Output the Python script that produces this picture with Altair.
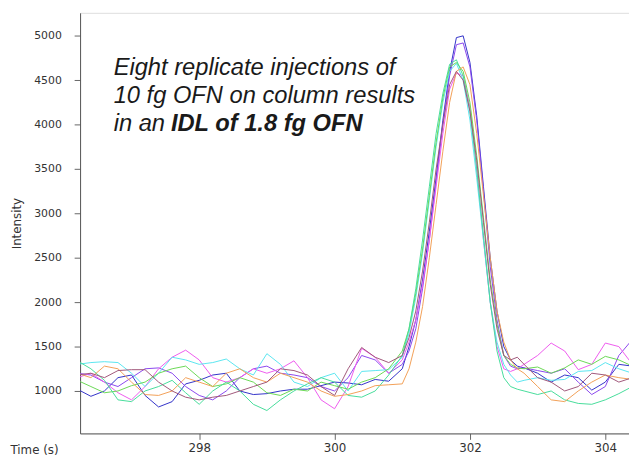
import altair as alt
import pandas as pd

# time axis (s)
times = [296.2, 296.4, 296.6, 296.8, 297.0, 297.2, 297.4, 297.6, 297.8, 298.0,
         298.2, 298.4, 298.6, 298.8, 299.0, 299.2, 299.4, 299.6, 299.8, 300.0,
         300.2, 300.4, 300.6, 300.8,
         301.0, 301.1, 301.2, 301.3, 301.4, 301.5, 301.6, 301.7, 301.8, 301.9,
         302.0, 302.1, 302.2, 302.3, 302.4, 302.5, 302.6, 302.7, 302.8,
         303.0, 303.2, 303.4, 303.6, 303.8, 304.0, 304.2, 304.4]

inj1 = [1020, 940, 1000, 1150, 1180, 950, 820, 880, 1080, 1120, 1180, 1200, 1000, 960, 970,
        1000, 1020, 1020, 1060, 1100, 1090, 1070, 1130, 1110,
        1250, 1500, 1800, 2250, 2800, 3400, 4050, 4600, 4980, 5000, 4700, 4100, 3300, 2500,
        1900, 1500, 1350, 1280, 1260,
        1200, 1100, 1180, 1150, 1010, 1100, 1300, 1280]
inj2 = [1200, 1180, 1100, 1050, 1150, 1250, 1260, 1200, 1050, 950, 900, 1000, 1150, 1250, 1280,
        1200, 1180, 1150, 1050, 1000, 1150, 1400, 1350, 1200,
        1300, 1450, 1700, 2150, 2700, 3350, 4000, 4550, 4900, 4920, 4650, 4050, 3250, 2400,
        1800, 1400, 1280, 1250, 1260,
        1230, 1200, 1250, 1100, 960, 1050, 1400, 1580]
inj3 = [1150, 1200, 1100, 980, 900, 1050, 1250, 1380, 1460, 1350, 1150, 1100, 1150, 1250, 1200,
        1250, 1340, 1150, 900, 800, 1050, 1480, 1380, 1200,
        1350, 1550, 1800, 2200, 2700, 3300, 3900, 4400, 4580, 4550, 4200, 3500, 2700, 2000,
        1500, 1250, 1220, 1250, 1300,
        1400, 1540, 1450, 1240, 1300, 1540, 1500, 1300]
inj4 = [1300, 1320, 1330, 1320, 1200, 1050, 1200, 1380, 1350, 1300, 1320, 1360, 1250, 1180, 1420,
        1300, 1100, 1050, 1150, 1200, 1000, 1220, 1230, 1240,
        1380, 1650, 2050, 2550, 3150, 3750, 4250, 4600, 4690, 4500, 4050, 3400, 2700, 2000,
        1550, 1300, 1180, 1100, 1120,
        1150, 1120, 1130, 1220, 1230, 1320, 1250, 1200]
inj5 = [1120, 1050, 980, 1000, 1060, 1100, 1200, 1250, 1280, 1150, 1050, 1080, 1150, 1100, 980,
        950, 1020, 1000, 1100, 1060, 1020, 1100, 1150, 1250,
        1450, 1700, 2100, 2600, 3200, 3800, 4300, 4650, 4700, 4600, 4250, 3650, 2950, 2250,
        1750, 1400, 1300, 1260, 1250,
        1270, 1200, 1260, 1350, 1300, 1390, 1350, 1280]
inj6 = [1340, 1250, 1120, 900, 880, 1000, 1050, 1120, 980, 850, 1000, 1100, 1000, 850, 780,
        900, 1000, 1080, 1150, 1100, 950, 930, 1000, 1180,
        1400, 1700, 2150, 2700, 3300, 3900, 4350, 4680, 4730, 4550, 4150, 3500, 2750, 2000,
        1450, 1150, 1050, 1020, 1000,
        960, 1000, 900, 860, 850, 900, 970, 1050]
inj7 = [1200, 1150, 1280, 1250, 1100, 960, 950, 1000, 1150, 1100, 1050, 1200, 1250, 1150, 1100,
        1200, 1150, 1100, 1000, 940, 960, 1000, 1060, 1070,
        1080, 1250, 1550, 1950, 2500, 3100, 3700, 4250, 4600, 4650, 4450, 3900, 3200, 2500,
        1900, 1550, 1350, 1250, 1200,
        1050, 900, 880, 1000, 1100, 1180, 1150, 1130]
inj8 = [1180, 1200, 1150, 1230, 1240, 1240, 1100, 1000, 930, 900, 930, 950, 1000, 1050, 1100,
        1250, 1230, 1180, 1050, 950, 1250, 1490, 1380, 1320,
        1400, 1600, 1900, 2350, 2900, 3500, 4000, 4450, 4600, 4500, 4150, 3600, 2900, 2200,
        1700, 1400, 1350, 1380, 1300,
        1150, 1100, 1000, 1050, 1200, 1180, 1100, 1150]

series_names = ["Inj 1", "Inj 2", "Inj 3", "Inj 4", "Inj 5", "Inj 6", "Inj 7", "Inj 8"]
series_vals = [inj1, inj2, inj3, inj4, inj5, inj6, inj7, inj8]
series_colors = ["#3232c8", "#8a46ee", "#ee5aee", "#5ae6f0", "#6ad854", "#46dc9a", "#f2a056", "#a0567a"]

x_ticks = [298, 300, 302, 304]
y_ticks = [1000, 1500, 2000, 2500, 3000, 3500, 4000, 4500, 5000]

ann_line1 = "Eight replicate injections of"
ann_line2 = "10 fg OFN on column results"
ann_line3a = "in an"
ann_line3b = "IDL of 1.8 fg OFN"

rows = []
for name, vals in zip(series_names, series_vals):
    for t, v in zip(times, vals):
        rows.append({"time": t, "intensity": v, "series": name})
df = pd.DataFrame(rows)

FONT = "DejaVu Sans"
W, H = 556, 426

lines = alt.Chart(df).mark_line(strokeWidth=1, clip=True).encode(
    x=alt.X("time:Q", scale=alt.Scale(domain=[296.24, 304.35], nice=False, zero=False),
            axis=alt.Axis(values=x_ticks, title="Time (s)", grid=False, format="d",
                          titleX=-71, titleY=20, titleAlign="left", titleBaseline="alphabetic",
                          titleFont=FONT, titleFontSize=12, titleFontWeight="normal",
                          titleColor="#333333",
                          labelFont=FONT, labelFontSize=12, labelColor="#333333",
                          labelPadding=3, tickSize=6, tickColor="#666666",
                          domainColor="#555555")),
    y=alt.Y("intensity:Q", scale=alt.Scale(domain=[522, 5259], nice=False, zero=False),
            axis=alt.Axis(values=y_ticks, title="Intensity", grid=False, format="d",
                          titleX=-64, titleY=H / 2, titleAngle=-90, titleAlign="center",
                          titleBaseline="middle",
                          titleFont=FONT, titleFontSize=12, titleFontWeight="normal",
                          titleColor="#333333",
                          labelFont=FONT, labelFontSize=11, labelColor="#333333",
                          labelPadding=13, tickSize=6, tickColor="#666666",
                          domainColor="#555555")),
    color=alt.Color("series:N", scale=alt.Scale(domain=series_names, range=series_colors),
                    legend=None),
)


def ann_text(txt, x, y, bold=False):
    return alt.Chart(pd.DataFrame({"txt": [txt]})).mark_text(
        font="Liberation Sans", fontSize=24, fontStyle="italic",
        fontWeight="bold" if bold else "normal",
        align="left", baseline="alphabetic", color="#1a1a1a"
    ).encode(text="txt:N", x=alt.value(x), y=alt.value(y))


t1 = ann_text(ann_line1, 34, 63)
t2 = ann_text(ann_line2, 34, 91.5)
t3 = ann_text(ann_line3a, 34, 120)
t4 = ann_text(ann_line3b, 92, 120, bold=True)

chart = alt.layer(lines, t1, t2, t3, t4).properties(
    width=W, height=H,
    autosize=alt.AutoSizeParams(type="none"),
    padding={"left": 73, "top": 2, "right": 0, "bottom": 23},
).configure_view(stroke=None).configure(background="white")

chart.save("out.html", embed_options={"renderer": "svg", "actions": False})
